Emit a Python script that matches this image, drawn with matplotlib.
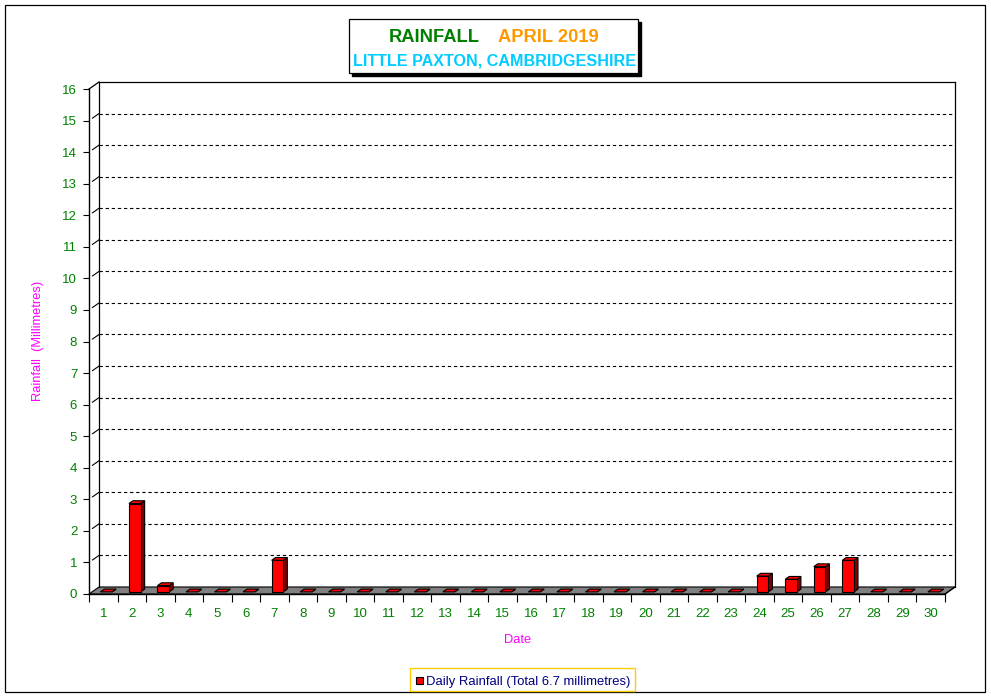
import matplotlib
matplotlib.use("Agg")
import matplotlib.pyplot as plt
from matplotlib.patches import Rectangle, Polygon

plt.rcParams['font.family'] = ['Liberation Sans', 'DejaVu Sans']

# ---- data ----
days = list(range(1, 31))
rainfall = [0, 2.8, 0.2, 0, 0, 0, 1.0, 0, 0, 0,
            0, 0, 0, 0, 0, 0, 0, 0, 0, 0,
            0, 0, 0, 0.5, 0.4, 0.8, 1.0, 0, 0, 0]
y_ticks = list(range(0, 17))
title_1a = "RAINFALL"
title_1b = "APRIL 2019"
title_2 = "LITTLE PAXTON, CAMBRIDGESHIRE"
legend_label = "Daily Rainfall (Total 6.7 millimetres)"

W, H = 991, 698
fig = plt.figure(figsize=(W / 100, H / 100), dpi=100)
fig.patch.set_facecolor('white')

def fx(x):
    return x / W

def fy(y):
    return 1 - y / H

# 3D depth in data units
DX = 0.3505
DY = 0.222
YMAX = 16

ax = fig.add_axes([fx(89), fy(594), (955 - 89) / W, (594 - 82) / H])
ax.set_xlim(0.5, 30.5 + DX)
ax.set_ylim(0, YMAX + DY)
ax.patch.set_alpha(0)
for s in ['top', 'right']:
    ax.spines[s].set_visible(False)
ax.spines['left'].set_bounds(0, YMAX)
ax.spines['bottom'].set_bounds(0.5, 30.5)
ax.spines['left'].set_linewidth(1.0)
ax.spines['bottom'].set_linewidth(1.0)

green = '#008000'
ax.set_yticks(y_ticks)
ax.set_yticklabels([str(t) for t in y_ticks])
ax.tick_params(axis='y', direction='out', length=4.5, width=0.8, pad=4,
               labelcolor=green, labelsize=9.5)
ax.set_xticks([d - 0.5 for d in days] + [30.5])
ax.set_xticklabels([])
ax.tick_params(axis='x', which='major', direction='out', length=5.8, width=0.8)
ax.set_xticks(days, minor=True)
ax.set_xticklabels([str(d) for d in days], minor=True)
ax.tick_params(axis='x', which='minor', length=0, pad=10, labelcolor=green,
               labelsize=9.5)

# floor
floor = Polygon([(0.5, 0), (30.5, 0), (30.5 + DX, DY), (0.5 + DX, DY)],
                closed=True, facecolor='#808080', edgecolor='black',
                linewidth=0.8, zorder=1, clip_on=False)
ax.add_patch(floor)

# back wall frame
lw = 0.9
ax.plot([0.5 + DX, 0.5 + DX], [DY, YMAX + DY], color='black', lw=lw, clip_on=False, zorder=2)
ax.plot([0.5 + DX, 30.5 + DX], [YMAX + DY, YMAX + DY], color='black', lw=lw, clip_on=False, zorder=2)
ax.plot([30.5 + DX, 30.5 + DX], [DY, YMAX + DY], color='black', lw=lw, clip_on=False, zorder=2)
ax.plot([0.5, 0.5 + DX], [YMAX, YMAX + DY], color='black', lw=lw, clip_on=False, zorder=2)
ax.plot([30.5, 30.5 + DX], [0, DY], color='black', lw=lw, clip_on=False, zorder=2)

# gridlines
for k in y_ticks[1:-1]:
    ax.plot([0.5 + DX, 30.5 + DX], [k + DY, k + DY], color='black', lw=0.8,
            ls=(0, (3, 2.5)), zorder=1.5)
    ax.plot([0.5 + DX * 0.35, 0.5 + DX], [k + DY * 0.35, k + DY], color='black',
            lw=0.8, zorder=1.5)

# bars
bw = 0.41
f = 0.3
dd = 0.4
red = '#FF0000'
dark = '#800000'
for d, v in zip(days, rainfall):
    x0 = d - bw / 2 + f * DX
    y0 = f * DY
    ddx, ddy = dd * DX, dd * DY
    side = Polygon([(x0 + bw, y0), (x0 + bw + ddx, y0 + ddy),
                    (x0 + bw + ddx, y0 + v + ddy), (x0 + bw, y0 + v)],
                   closed=True, facecolor=dark, edgecolor='black', lw=0.8, zorder=3)
    top = Polygon([(x0, y0 + v), (x0 + bw, y0 + v), (x0 + bw + ddx, y0 + v + ddy),
                   (x0 + ddx, y0 + v + ddy)],
                  closed=True, facecolor=red, edgecolor='black', lw=0.8, zorder=3)
    ax.add_patch(side)
    ax.add_patch(top)
    if v > 0:
        front = Rectangle((x0, y0), bw, v, facecolor=red, edgecolor='black',
                          lw=0.8, zorder=4)
        ax.add_patch(front)

# axis labels
magenta = '#FF00FF'
fig.text(fx(37.5), fy(341), "Rainfall  (Millimetres)", rotation=90, color=magenta,
         fontsize=9.3, ha='center', va='center')
fig.text(fx(518), fy(640), "Date", color=magenta, fontsize=9.3, ha='center', va='center')

# title box with shadow
fig.patches.append(Rectangle((fx(352), fy(76)), (638 - 349) / W, (73 - 19) / H,
                             transform=fig.transFigure, facecolor='black',
                             edgecolor='black', zorder=0))
fig.patches.append(Rectangle((fx(349), fy(73)), (638 - 349) / W, (73 - 19) / H,
                             transform=fig.transFigure, facecolor='white',
                             edgecolor='black', lw=0.9, zorder=1))
fig.text(fx(434), fy(42), title_1a, color='#008000', fontsize=13.2, weight='bold',
         ha='center', va='baseline', zorder=2)
fig.text(fx(548), fy(42), title_1b, color='#FF9900', fontsize=13.2, weight='bold',
         ha='center', va='baseline', zorder=2)
fig.text(fx(494.5), fy(65), title_2, color='#00CCFF', fontsize=11.65, weight='bold',
         ha='center', va='baseline', zorder=2)

# legend
fig.patches.append(Rectangle((fx(410), fy(691)), (635 - 410) / W, (691 - 668) / H,
                             transform=fig.transFigure, facecolor='white',
                             edgecolor='#FFCC00', lw=1.0, zorder=1))
fig.patches.append(Rectangle((fx(416), fy(684)), 6.5 / W, 7 / H,
                             transform=fig.transFigure, facecolor=red,
                             edgecolor='black', lw=0.8, zorder=2))
fig.text(fx(426), fy(685), legend_label, color='#000080', fontsize=9.35,
         ha='left', va='baseline', zorder=2)

# outer border
fig.patches.append(Rectangle((fx(5), fy(692)), (985 - 5) / W, (692 - 5) / H,
                             transform=fig.transFigure, facecolor='none',
                             edgecolor='black', lw=0.9, zorder=0))

fig.savefig("out.png", dpi=100)
